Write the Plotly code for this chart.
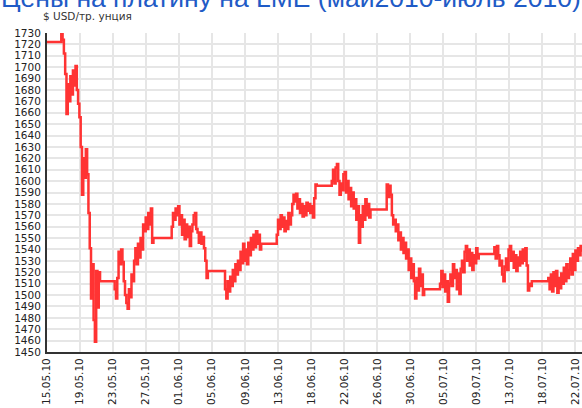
import pandas as pd
import plotly.graph_objects as go

title_text = "Цены на платину на LME (май2010-июль 2010)"
y_title = "$ USD/тр. унция"
x_tick_labels = ["15.05.10", "19.05.10", "23.05.10", "27.05.10", "01.06.10", "05.06.10",
                 "09.06.10", "13.06.10", "18.06.10", "22.06.10", "26.06.10", "30.06.10",
                 "05.07.10", "09.07.10", "13.07.10", "18.07.10", "22.07.10"]
y_ticks = list(range(1450, 1731, 10))

opening_time = "2010-05-15 00:00"
opening_price = 1722

# start time of each trading session (after a weekend) and prices every 4 hours
session_starts = ["2010-05-16 23:10", "2010-05-23 20:30", "2010-05-31 05:00",
                  "2010-06-07 02:10", "2010-06-13 18:15", "2010-06-20 20:40",
                  "2010-06-27 22:50", "2010-07-04 19:55", "2010-07-11 20:10",
                  "2010-07-18 19:10"]
sample_hours = 4

week1 = [1730, 1724, 1712, 1694, 1659, 1685, 1670, 1692, 1676, 1697, 1684, 1701, 1680,
         1668, 1656, 1630, 1588, 1620, 1603, 1628, 1606, 1572, 1541, 1497, 1527, 1478,
         1459, 1521, 1489, 1520, 1512]
week2 = [1505, 1497, 1515, 1538, 1527, 1540, 1529, 1512, 1500, 1493, 1488, 1505, 1498,
         1518, 1512, 1530, 1541, 1527, 1545, 1533, 1550, 1540, 1562, 1556, 1568, 1558,
         1572, 1562, 1576, 1546, 1550]
week3 = [1560, 1572, 1566, 1576, 1570, 1578, 1562, 1570, 1553, 1566, 1549, 1562, 1551,
         1560, 1543, 1556, 1562, 1570, 1572, 1558, 1555, 1546, 1555, 1545, 1551, 1541,
         1530, 1515, 1521]
week4 = [1505, 1497, 1512, 1503, 1516, 1508, 1522, 1512, 1527, 1518, 1530, 1522, 1538,
         1528, 1545, 1530, 1540, 1527, 1546, 1535, 1550, 1540, 1553, 1542, 1556, 1545,
         1553, 1540, 1545]
week5 = [1553, 1566, 1558, 1570, 1560, 1568, 1556, 1565, 1558, 1572, 1562, 1570, 1580,
         1588, 1582, 1589, 1576, 1584, 1572, 1580, 1569, 1578, 1570, 1581, 1574, 1580,
         1572, 1578, 1568, 1585, 1597, 1596]
week6 = [1600, 1610, 1598, 1612, 1615, 1600, 1588, 1598, 1592, 1606, 1608, 1590, 1600,
         1584, 1594, 1578, 1590, 1576, 1584, 1566, 1578, 1546, 1570, 1560, 1578, 1566,
         1584, 1570, 1580, 1568, 1575, 1575]
week7 = [1597, 1586, 1596, 1588, 1570, 1562, 1566, 1556, 1562, 1548, 1555, 1540, 1550,
         1537, 1546, 1532, 1540, 1522, 1532, 1515, 1527, 1512, 1497, 1515, 1504, 1523,
         1508, 1518, 1500, 1505]
week8 = [1510, 1521, 1507, 1518, 1503, 1512, 1494, 1510, 1518, 1508, 1527, 1515, 1522,
         1505, 1519, 1501, 1523, 1530, 1520, 1538, 1543, 1530, 1540, 1526, 1537, 1522,
         1535, 1528, 1541, 1532, 1536]
week9 = [1542, 1532, 1543, 1535, 1526, 1530, 1518, 1512, 1525, 1532, 1522, 1540, 1543,
         1530, 1538, 1524, 1535, 1521, 1533, 1526, 1538, 1528, 1540, 1530, 1541, 1526,
         1504, 1510, 1508, 1512]
week10 = [1515, 1505, 1518, 1503, 1520, 1508, 1521, 1502, 1515, 1506, 1519, 1510, 1524,
          1512, 1527, 1515, 1522, 1532, 1518, 1536, 1522, 1539, 1530, 1541, 1535, 1543,
          1538]
weeks = [week1, week2, week3, week4, week5, week6, week7, week8, week9, week10]

axis_start = pd.Timestamp("2010-05-15 02:53")
axis_end = pd.Timestamp("2010-07-23 03:36")
tick_step = pd.Timedelta(hours=102.24)

times = [pd.Timestamp(opening_time)]
prices = [opening_price]
for start, vals in zip(session_starts, weeks):
    idx = pd.date_range(start, periods=len(vals), freq=f"{sample_hours}h")
    times.extend(list(idx))
    prices.extend(vals)

tick_vals = [axis_start + k * tick_step for k in range(len(x_tick_labels))]

fig = go.Figure()
fig.add_trace(go.Scatter(
    x=times, y=prices, mode="lines",
    line=dict(color="#ff3333", width=2.5, shape="hv"),
    showlegend=False, hoverinfo="x+y"))

tick_font = dict(family="DejaVu Sans", size=10.5, color="#222222")

fig.update_layout(
    width=582, height=408,
    margin=dict(l=47, r=0, t=33, b=56, autoexpand=False),
    paper_bgcolor="white", plot_bgcolor="white",
    title=dict(text=title_text, xref="container", yref="container",
               x=0.0, xanchor="left", y=1 - 7 / 408, yanchor="bottom",
               font=dict(family="Liberation Sans", size=26.5, color="#1f5bc6"),
               pad=dict(l=1, t=0, b=0, r=0)),
    xaxis=dict(range=[axis_start, axis_end], tickmode="array", tickvals=tick_vals,
               ticktext=x_tick_labels, tickangle=-90, tickfont=tick_font,
               showgrid=True, gridcolor="#e6e6e6", gridwidth=2,
               showline=True, linecolor="#333333", linewidth=2,
               ticks="", automargin=False, zeroline=False),
    yaxis=dict(range=[1450, 1730], tickmode="array", tickvals=y_ticks,
               ticktext=[str(v) for v in y_ticks], tickfont=tick_font,
               showgrid=True, gridcolor="#e6e6e6", gridwidth=2,
               showline=True, linecolor="#333333", linewidth=2,
               ticks="", ticklabelstandoff=2, automargin=False, zeroline=False),
    annotations=[dict(text=y_title, xref="paper", yref="paper",
                      x=-6 / 535, y=1 + 17 / 319, xanchor="left", yanchor="middle",
                      showarrow=False,
                      font=dict(family="DejaVu Sans", size=10.5, color="#333333"))],
)

fig.write_html("out.html", config={"displayModeBar": False},
               post_script="document.body.style.margin='0';")
